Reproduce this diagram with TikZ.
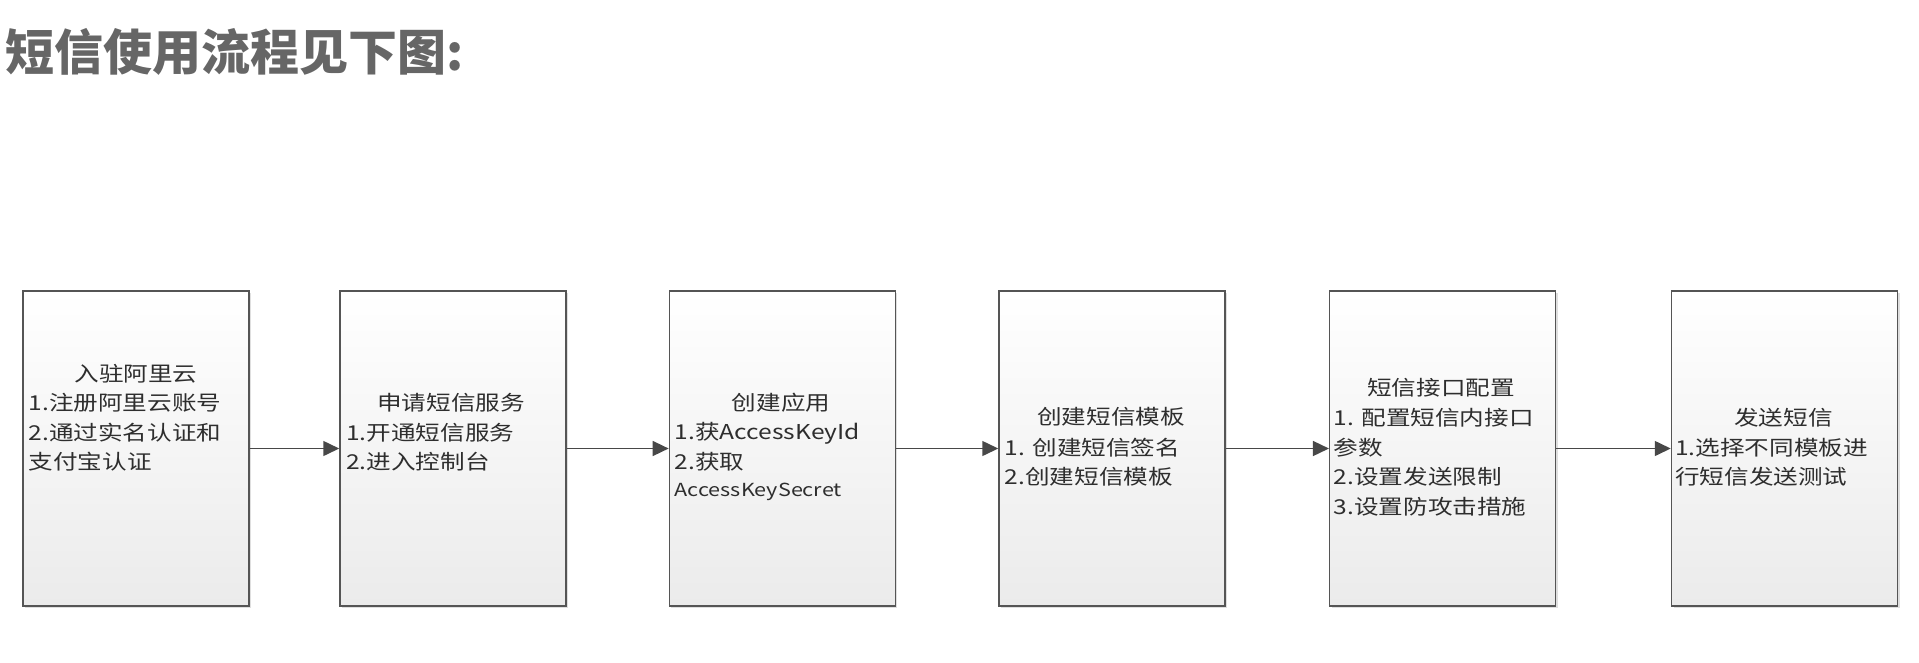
\documentclass[tikz,border=0pt]{standalone}
\usepackage{fontspec}
\newfontfamily\cjk[FakeStretch=1.2]{Noto Sans CJK SC}
\newfontfamily\titlefont{Noto Sans CJK SC}
\usetikzlibrary{arrows.meta,shadows}
\definecolor{boxline}{HTML}{555555}
\definecolor{arrc}{HTML}{484848}
\definecolor{txtc}{HTML}{2E2E2E}
\definecolor{titlec}{HTML}{666666}
\definecolor{boxbot}{HTML}{EBEBEB}
\tikzset{
  box/.style={rectangle, draw=boxline, line width=1.5pt, top color=white, bottom color=boxbot,
    minimum width=226pt, minimum height=315pt, inner sep=0pt,
    drop shadow={shadow xshift=2pt, shadow yshift=-2pt, opacity=0.25, fill=black!50}},
  txt/.style={inner sep=0pt, text=txtc, font=\cjk\fontsize{20.5pt}{24pt}\selectfont},
  lline/.style={txt, anchor=west},
  arr/.style={draw=arrc, line width=1.5pt, -{Triangle[length=16pt,width=15pt]}},
}
\begin{document}
\begin{tikzpicture}[x=1pt,y=-1pt]
\useasboundingbox (0,0) rectangle (1919,662);
\node[anchor=west, inner sep=0pt, text=titlec, font=\titlefont\bfseries\fontsize{49pt}{53pt}\selectfont] (title) at (5,52) {短信使用流程见下图:};
% boxes
\node[box] (b1) at (135.8,448.5) {};
\node[box] (b2) at (453,448.5) {};
\node[box] (b3) at (782.4,448.5) {};
\node[box] (b4) at (1112,448.5) {};
\node[box] (b5) at (1442.7,448.5) {};
\node[box] (b6) at (1784.5,448.5) {};
% arrows
\draw[arr] (b1.east) -- (b2.west);
\draw[arr] (b2.east) -- (b3.west);
\draw[arr] (b3.east) -- (b4.west);
\draw[arr] (b4.east) -- (b5.west);
\draw[arr] (b5.east) -- (b6.west);
% box 1
\node[txt] (b1t) at (136,374) {入驻阿里云};
\node[lline] (b1a) at (28.5,403) {1.注册阿里云账号};
\node[lline] (b1b) at (28.5,433) {2.通过实名认证和};
\node[lline] (b1c) at (28.5,462) {支付宝认证};
% box 2
\node[txt] (b2t) at (451,403) {申请短信服务};
\node[lline] (b2a) at (346,433) {1.开通短信服务};
\node[lline] (b2b) at (346,462) {2.进入控制台};
% box 3
\node[txt] (b3t) at (781,403) {创建应用};
\node[lline] (b3a) at (674.5,433) {1.获AccessKeyId};
\node[lline] (b3b) at (674.5,462) {2.获取};
\node[lline, font=\cjk\fontsize{18pt}{21pt}\selectfont] (b3c) at (674.5,492) {AccessKeySecret};
% box 4
\node[txt] (b4t) at (1111,417) {创建短信模板};
\node[lline] (b4a) at (1004.5,448) {1. 创建短信签名};
\node[lline] (b4b) at (1004.5,477) {2.创建短信模板};
% box 5
\node[txt] (b5t) at (1441,388) {短信接口配置};
\node[lline] (b5a) at (1333.5,418) {1. 配置短信内接口};
\node[lline] (b5b) at (1333.5,448) {参数};
\node[lline] (b5c) at (1333.5,477) {2.设置发送限制};
\node[lline] (b5d) at (1333.5,507) {3.设置防攻击措施};
% box 6
\node[txt] (b6t) at (1783.5,418) {发送短信};
\node[lline] (b6a) at (1675,448) {1.选择不同模板进};
\node[lline] (b6b) at (1675,477) {行短信发送测试};
\end{tikzpicture}
\end{document}
